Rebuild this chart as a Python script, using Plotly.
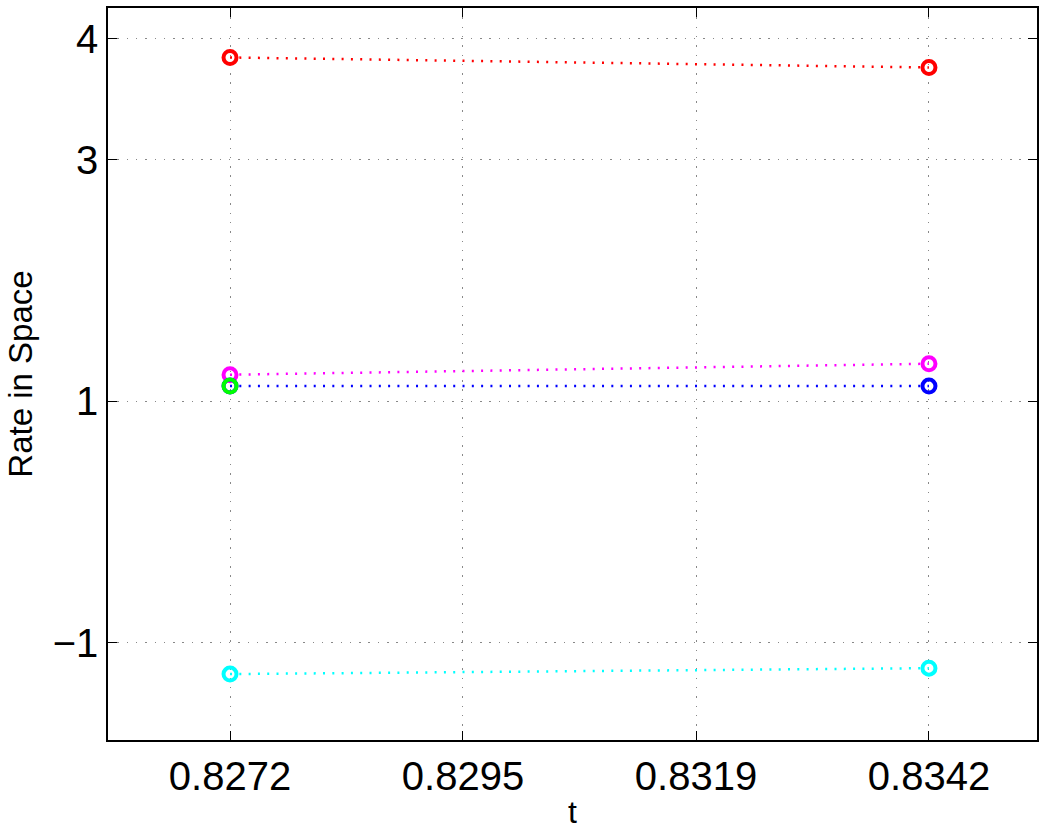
import plotly.graph_objects as go

t = [0.8272, 0.8342]
red = [3.846, 3.763]
magenta = [1.220, 1.311]
blue = [1.126, 1.126]
green_t = [0.8272]
green = [1.126]
cyan = [-1.258, -1.209]

xtick_vals = [0.8272, 0.829533, 0.831867, 0.8342]
xtick_text = ["0.8272", "0.8295", "0.8319", "0.8342"]
ytick_vals = [-1, 1, 3, 4]
ytick_text = ["\u22121", "1", "3", "4"]

fig = go.Figure()

def add(x, y, color):
    fig.add_trace(go.Scatter(
        x=x, y=y, mode="lines+markers",
        line=dict(color=color, width=2.5, dash="2px,7.3px"),
        marker=dict(symbol="circle-open", size=13, color=color, line=dict(width=4, color=color)),
        showlegend=False))

add(t, red, "#ff0000")
add(t, magenta, "#ff00ff")
add(t, blue, "#0000ff")
add(green_t, green, "#00ff00")
add(t, cyan, "#00ffff")

fig.update_layout(
    width=1046, height=834,
    margin=dict(l=108, r=9, t=6, b=94),
    paper_bgcolor="white", plot_bgcolor="white",
    font=dict(family="Liberation Sans, Arial, sans-serif", color="black"),
    xaxis=dict(
        range=[0.825978, 0.835282], tickvals=xtick_vals, ticktext=xtick_text,
        tickfont=dict(size=40), ticks="inside", ticklen=9, tickcolor="black",
        showline=True, linecolor="black", linewidth=1.5, mirror="ticks",
        showgrid=True, gridcolor="#888888", griddash="1.5px,7.8px", gridwidth=1,
        zeroline=False,
        title=dict(text="t", font=dict(size=32), standoff=4),
    ),
    yaxis=dict(
        range=[-1.8036, 4.2555], tickvals=ytick_vals, ticktext=ytick_text,
        tickfont=dict(size=40), ticks="inside", ticklen=9, tickcolor="black",
        showline=True, linecolor="black", linewidth=1.5, mirror="ticks",
        showgrid=True, gridcolor="#888888", griddash="1.5px,7.8px", gridwidth=1,
        zeroline=False,
        title=dict(text="Rate in Space", font=dict(size=33), standoff=10),
    ),
)

fig.write_html("out.html")
